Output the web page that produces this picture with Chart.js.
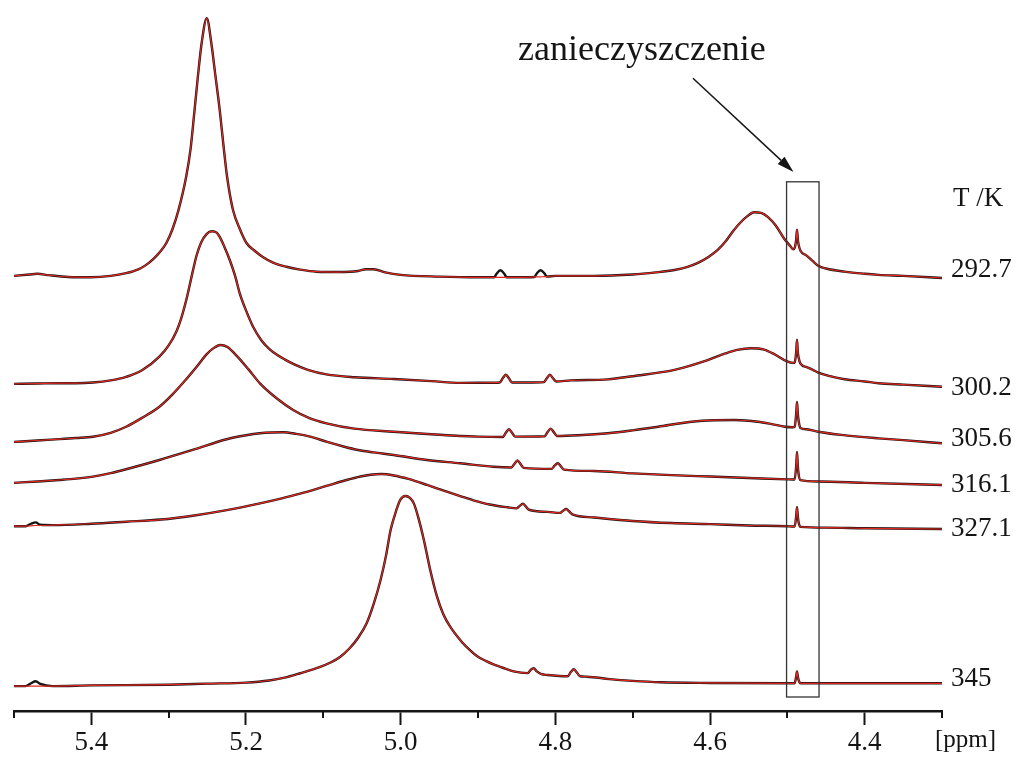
<!DOCTYPE html>
<html>
<head>
<meta charset="utf-8">
<script src="https://cdn.jsdelivr.net/npm/chart.js@4.4.1/dist/chart.umd.min.js"></script>
<style>
  html, body { margin: 0; padding: 0; background: #fff; }
  canvas { display: block; }
</style>
</head>
<body>
<canvas id="nmr" width="1020" height="760"></canvas>
<script>
// ---- data: 1H NMR spectra (ppm vs. intensity, a.u.), measured and fitted ----
const temperatures = ['292.7', '300.2', '305.6', '316.1', '327.1', '345'];
const majorTicks = [4.4, 4.6, 4.8, 5.0, 5.2, 5.4];
const minorTicks = [4.3, 4.5, 4.7, 4.9, 5.1, 5.3, 5.5];

// 292.7 K
const ppm2927 = [5.50, 5.48, 5.47, 5.455, 5.43, 5.40, 5.375, 5.355, 5.34, 5.33,
  5.32, 5.31, 5.303, 5.295, 5.2873, 5.2773, 5.2715, 5.2665, 5.2622, 5.2573,
  5.2507, 5.2449, 5.240, 5.234, 5.2288, 5.2245, 5.2168, 5.208, 5.1994, 5.19,
  5.1783, 5.165, 5.1476, 5.13, 5.1087, 5.08, 5.055, 5.045, 5.035, 5.02,
  5.00, 4.95, 4.90, 4.879, 4.876, 4.871, 4.866, 4.863, 4.85, 4.827,
  4.824, 4.819, 4.814, 4.811, 4.80, 4.75, 4.70, 4.67, 4.646, 4.63,
  4.615, 4.602, 4.59, 4.58, 4.57, 4.56, 4.552, 4.543, 4.534, 4.525,
  4.515, 4.504, 4.4965, 4.4925, 4.4905, 4.4885, 4.4875, 4.4865, 4.4855, 4.483,
  4.475, 4.467, 4.46, 4.45, 4.426, 4.40, 4.382, 4.35, 4.30];
const exp2927 = [0.3, 0.5, 0.6, 0.4, 0.15, 0.1, 0.3, 0.7, 1.2, 1.8,
  2.7, 3.9, 5.0, 7.0, 9.7, 14.5, 18.6, 24.0, 28.8, 33.6,
  37.1, 33.6, 29.3, 24.0, 18.6, 14.5, 9.7, 7.0, 5.0, 4.0,
  3.0, 2.2, 1.6, 1.2, 0.9, 0.85, 1.0, 1.25, 1.25, 0.8,
  0.45, 0.2, 0.1, 0.1, 0.6, 1.1, 0.6, 0.1, 0.1, 0.15,
  0.65, 1.1, 0.65, 0.2, 0.3, 0.3, 0.5, 0.8, 1.14, 1.55,
  2.2, 3.0, 4.0, 5.2, 6.7, 8.0, 8.8, 9.4, 9.3, 8.7,
  7.5, 5.6, 4.6, 4.1, 4.3, 5.6, 6.9, 5.6, 4.8, 3.9,
  3.2, 2.4, 1.75, 1.35, 0.9, 0.6, 0.45, 0.3, 0];
const fit2927 = [0.3, 0.5, 0.6, 0.4, 0.15, 0.1, 0.3, 0.7, 1.2, 1.8,
  2.7, 3.9, 5.0, 7.0, 9.7, 14.5, 18.6, 24.0, 28.8, 33.6,
  37.1, 33.6, 29.3, 24.0, 18.6, 14.5, 9.7, 7.0, 5.0, 4.0,
  3.0, 2.2, 1.6, 1.2, 0.9, 0.85, 1.0, 1.25, 1.25, 0.8,
  0.45, 0.2, 0.1, 0.1, 0.1, 0.1, 0.1, 0.1, 0.1, 0.15,
  0.16, 0.17, 0.18, 0.2, 0.3, 0.3, 0.5, 0.8, 1.14, 1.55,
  2.2, 3.0, 4.0, 5.2, 6.7, 8.0, 8.8, 9.4, 9.3, 8.7,
  7.5, 5.6, 4.6, 4.1, 4.3, 5.6, 6.9, 5.6, 4.8, 3.9,
  3.2, 2.4, 1.75, 1.35, 0.9, 0.6, 0.45, 0.3, 0];

// 300.2 K
const ppm3002 = [5.50, 5.47, 5.4415, 5.42, 5.398, 5.375, 5.355, 5.335, 5.312, 5.30,
  5.290, 5.284, 5.277, 5.270, 5.264, 5.258, 5.251, 5.244, 5.238, 5.234,
  5.228, 5.221, 5.214, 5.208, 5.20, 5.191, 5.18, 5.17, 5.16, 5.15,
  5.139, 5.12, 5.096, 5.06, 5.009, 4.96, 4.923, 4.88, 4.872, 4.868,
  4.864, 4.860, 4.856, 4.83, 4.815, 4.811, 4.807, 4.803, 4.799, 4.78,
  4.732, 4.70, 4.646, 4.603, 4.58, 4.565, 4.547, 4.53, 4.516, 4.501,
  4.4925, 4.4905, 4.4885, 4.4875, 4.4865, 4.4855, 4.483, 4.475, 4.467, 4.46,
  4.445, 4.426, 4.40, 4.382, 4.35, 4.30];
const exp3002 = [0.4, 0.45, 0.5, 0.5, 0.6, 0.9, 1.4, 2.3, 4.3, 5.9,
  7.9, 9.7, 12.5, 15.9, 18.7, 20.6, 21.8, 22.2, 22.0, 21.4,
  20.0, 18.1, 15.8, 13.3, 10.9, 8.6, 6.6, 5.4, 4.55, 3.9,
  3.25, 2.4, 1.75, 1.35, 1.1, 0.8, 0.55, 0.57, 0.6, 1.2,
  1.7, 1.2, 0.6, 0.6, 0.65, 1.2, 1.7, 1.2, 0.75, 0.9,
  1.05, 1.5, 2.4, 3.8, 4.75, 5.25, 5.5, 5.3, 4.6, 3.65,
  3.4, 3.5, 5.0, 6.7, 5.0, 4.2, 3.3, 2.8, 2.4, 2.0,
  1.5, 1.06, 0.75, 0.5, 0.3, 0];
const fit3002 = exp3002;

// 305.6 K
const ppm3056 = [5.50, 5.47, 5.4415, 5.42, 5.398, 5.375, 5.355, 5.335, 5.312, 5.295,
  5.277, 5.264, 5.251, 5.242, 5.233, 5.224, 5.212, 5.197, 5.182, 5.16,
  5.139, 5.118, 5.096, 5.06, 5.009, 4.96, 4.923, 4.90, 4.868, 4.864,
  4.860, 4.856, 4.852, 4.814, 4.810, 4.806, 4.802, 4.798, 4.77, 4.732,
  4.70, 4.667, 4.624, 4.595, 4.568, 4.538, 4.52, 4.503, 4.4925, 4.4905,
  4.4885, 4.4875, 4.4865, 4.4855, 4.483, 4.475, 4.46, 4.43, 4.382, 4.35,
  4.30];
const exp3056 = [0.2, 0.4, 0.6, 0.75, 0.94, 1.5, 2.37, 3.6, 5.23, 7.0,
  9.2, 10.9, 12.7, 13.6, 14.05, 13.75, 12.5, 10.6, 8.57, 6.4,
  4.76, 3.6, 2.86, 2.1, 1.66, 1.3, 1.04, 0.95, 0.9, 1.5,
  2.0, 1.5, 0.95, 1.0, 1.6, 2.1, 1.6, 1.05, 1.15, 1.43,
  1.85, 2.37, 3.09, 3.3, 3.33, 3.09, 2.75, 2.37, 2.3, 2.35,
  4.3, 5.9, 4.3, 3.3, 2.2, 2.0, 1.66, 1.2, 0.71, 0.45,
  0];
const fit3056 = exp3056;

// 316.1 K
const ppm3161 = [5.50, 5.47, 5.4415, 5.42, 5.398, 5.375, 5.355, 5.312, 5.269, 5.225,
  5.20, 5.182, 5.167, 5.152, 5.135, 5.117, 5.095, 5.074, 5.055, 5.035,
  5.009, 4.966, 4.923, 4.88, 4.857, 4.853, 4.849, 4.845, 4.841, 4.805,
  4.801, 4.797, 4.793, 4.789, 4.75, 4.70, 4.65, 4.60, 4.55, 4.50,
  4.4925, 4.4905, 4.4885, 4.4875, 4.4865, 4.4855, 4.483, 4.46, 4.40, 4.30];
const exp3161 = [0.3, 0.5, 0.71, 0.9, 1.2, 1.7, 2.25, 3.57, 5.0, 6.53,
  7.1, 7.39, 7.5, 7.53, 7.3, 6.9, 6.15, 5.5, 5.0, 4.65,
  4.29, 3.57, 3.1, 2.6, 2.5, 3.0, 3.5, 3.0, 2.45, 2.3,
  2.75, 3.1, 2.7, 2.2, 2.0, 1.65, 1.4, 1.2, 1.0, 0.8,
  0.78, 0.8, 2.8, 4.7, 2.8, 1.6, 0.7, 0.5, 0.3, 0];
const fit3161 = exp3161;

// 327.1 K
const ppm3271 = [5.50, 5.485, 5.478, 5.472, 5.466, 5.45, 5.40, 5.355, 5.31, 5.269,
  5.225, 5.182, 5.155, 5.13, 5.096, 5.07, 5.052, 5.039, 5.025, 5.009,
  4.99, 4.966, 4.949, 4.923, 4.906, 4.885, 4.862, 4.850, 4.846, 4.842,
  4.838, 4.834, 4.81, 4.794, 4.790, 4.786, 4.782, 4.778, 4.75, 4.70,
  4.65, 4.60, 4.55, 4.50, 4.4925, 4.4905, 4.4885, 4.4875, 4.4865, 4.4855,
  4.483, 4.45, 4.40, 4.30];
const exp3271 = [0.4, 0.4, 0.75, 0.95, 0.6, 0.55, 0.75, 1.04, 1.35, 1.9,
  2.7, 3.67, 4.35, 5.05, 6.15, 7.0, 7.5, 7.75, 7.85, 7.65,
  7.15, 6.3, 5.65, 4.7, 4.1, 3.5, 3.1, 2.95, 3.3, 3.6,
  3.2, 2.75, 2.45, 2.3, 2.6, 2.85, 2.5, 2.1, 1.65, 1.15,
  0.85, 0.7, 0.5, 0.4, 0.35, 0.35, 1.9, 3.1, 1.9, 1.0,
  0.3, 0.2, 0.1, 0];
const fit3271 = [0.4, 0.4, 0.45, 0.5, 0.5, 0.55, 0.75, 1.04, 1.35, 1.9,
  2.7, 3.67, 4.35, 5.05, 6.15, 7.0, 7.5, 7.75, 7.85, 7.65,
  7.15, 6.3, 5.65, 4.7, 4.1, 3.5, 3.1, 2.95, 3.3, 3.6,
  3.2, 2.75, 2.45, 2.3, 2.6, 2.85, 2.5, 2.1, 1.65, 1.15,
  0.85, 0.7, 0.5, 0.4, 0.35, 0.35, 1.9, 3.1, 1.9, 1.0,
  0.3, 0.2, 0.1, 0];

// 345 K
const ppm345 = [5.50, 5.485, 5.478, 5.472, 5.466, 5.45, 5.40, 5.30, 5.25, 5.20,
  5.17, 5.15, 5.13, 5.105, 5.09, 5.078, 5.066, 5.055, 5.044, 5.035,
  5.026, 5.019, 5.013, 5.006, 5.0005, 4.994, 4.988, 4.983, 4.977, 4.970,
  4.962, 4.953, 4.945, 4.936, 4.92, 4.91, 4.901, 4.89, 4.88, 4.865,
  4.854, 4.836, 4.832, 4.828, 4.824, 4.818, 4.81, 4.795, 4.784, 4.780,
  4.776, 4.772, 4.768, 4.759, 4.73, 4.70, 4.664, 4.60, 4.50, 4.4925,
  4.4905, 4.4885, 4.4875, 4.4865, 4.4855, 4.483, 4.40, 4.30];
const exp345 = [-0.4, -0.4, 0.0, 0.3, -0.1, -0.4, -0.3, -0.2, -0.05, 0.1,
  0.4, 0.8, 1.43, 2.3, 3.0, 3.8, 5.0, 6.5, 8.57, 11.3,
  14.76, 18.2, 21.9, 24.6, 26.2, 26.76, 26.5, 25.7, 23.6, 20.47,
  16.3, 12.37, 9.9, 8.09, 5.8, 4.7, 3.85, 3.2, 2.7, 2.1,
  1.7, 1.45, 1.9, 2.14, 1.7, 1.3, 1.19, 1.05, 1.0, 1.6,
  2.0, 1.5, 1.0, 0.94, 0.6, 0.35, 0.15, 0.05, 0.0, 0.0,
  0.05, 1.0, 1.7, 1.0, 0.5, 0.0, 0.0, 0.0];
const fit345 = [-0.4, -0.4, -0.4, -0.4, -0.4, -0.4, -0.3, -0.2, -0.05, 0.1,
  0.4, 0.8, 1.43, 2.3, 3.0, 3.8, 5.0, 6.5, 8.57, 11.3,
  14.76, 18.2, 21.9, 24.6, 26.2, 26.76, 26.5, 25.7, 23.6, 20.47,
  16.3, 12.37, 9.9, 8.09, 5.8, 4.7, 3.85, 3.2, 2.7, 2.1,
  1.7, 1.45, 1.9, 2.14, 1.7, 1.3, 1.19, 1.05, 1.0, 1.6,
  2.0, 1.5, 1.0, 0.94, 0.6, 0.35, 0.15, 0.05, 0.0, 0.0,
  0.05, 1.0, 1.7, 1.0, 0.5, 0.0, 0.0, 0.0];

// ---- layout & style ----
const stackOffset = [61.86, 46.33, 38.24, 32.29, 26.0, 3.96];   // vertical shift of each trace (a.u.)
const labelNudge = [-1, 8, 3, 7, 7, 3];                         // px, temperature label baseline vs. trace
const ink = '#151515';
const fitColor = '#e3261e';
const serif = "'Liberation Serif', 'Times New Roman', serif";

const spectra = [
  { ppm: ppm2927, exp: exp2927, fit: fit2927 },
  { ppm: ppm3002, exp: exp3002, fit: fit3002 },
  { ppm: ppm3056, exp: exp3056, fit: fit3056 },
  { ppm: ppm3161, exp: exp3161, fit: fit3161 },
  { ppm: ppm3271, exp: exp3271, fit: fit3271 },
  { ppm: ppm345,  exp: exp345,  fit: fit345  }
];

const toPoints = (xs, ys, shift) => xs.map((v, i) => ({ x: v, y: ys[i] + shift }));

const datasets = [];
spectra.forEach((s, i) => {
  datasets.push({
    label: temperatures[i] + ' K fit',
    data: toPoints(s.ppm, s.fit, stackOffset[i]),
    borderColor: fitColor, borderWidth: 1.2, order: 0
  });
  datasets.push({
    label: temperatures[i] + ' K',
    data: toPoints(s.ppm, s.exp, stackOffset[i]),
    borderColor: ink, borderWidth: 2.4, order: 1
  });
});

// box around the impurity signal, arrow and caption
const impurityBox = { from: 4.501, to: 4.459, low: 2.0, high: 75.6 };
const arrow = { x0: 4.622, y0: 90.4, x1: 4.492, y1: 77.0 };
const caption = { text: 'zanieczyszczenie', x: 4.688, y: 93.0 };

const annotate = {
  id: 'annotate',
  afterDraw(chart) {
    const { ctx, chartArea, scales: { x, y } } = chart;
    ctx.save();

    // minor ticks
    ctx.strokeStyle = ink;
    ctx.lineWidth = 2;
    minorTicks.forEach(v => {
      const px = Math.round(x.getPixelForValue(v));
      ctx.beginPath();
      ctx.moveTo(px, chartArea.bottom);
      ctx.lineTo(px, chartArea.bottom + 7);
      ctx.stroke();
    });

    // impurity box
    ctx.strokeStyle = '#333';
    ctx.lineWidth = 1.3;
    const bx0 = x.getPixelForValue(impurityBox.from), bx1 = x.getPixelForValue(impurityBox.to);
    const by0 = y.getPixelForValue(impurityBox.high), by1 = y.getPixelForValue(impurityBox.low);
    ctx.strokeRect(bx0, by0, bx1 - bx0, by1 - by0);

    // arrow
    const ax0 = x.getPixelForValue(arrow.x0), ay0 = y.getPixelForValue(arrow.y0);
    const ax1 = x.getPixelForValue(arrow.x1), ay1 = y.getPixelForValue(arrow.y1);
    const ang = Math.atan2(ay1 - ay0, ax1 - ax0);
    const headLen = 17, headHalf = 5;
    const hx = ax1 - headLen * Math.cos(ang), hy = ay1 - headLen * Math.sin(ang);
    ctx.strokeStyle = ink;
    ctx.lineWidth = 1.5;
    ctx.beginPath();
    ctx.moveTo(ax0, ay0);
    ctx.lineTo(hx, hy);
    ctx.stroke();
    ctx.fillStyle = ink;
    ctx.beginPath();
    ctx.moveTo(ax1, ay1);
    ctx.lineTo(hx + headHalf * Math.sin(ang), hy - headHalf * Math.cos(ang));
    ctx.lineTo(hx - headHalf * Math.sin(ang), hy + headHalf * Math.cos(ang));
    ctx.closePath();
    ctx.fill();

    // caption
    ctx.font = '36px ' + serif;
    ctx.textAlign = 'center';
    ctx.textBaseline = 'alphabetic';
    ctx.fillText(caption.text, x.getPixelForValue(caption.x), y.getPixelForValue(caption.y));

    // temperature labels
    ctx.font = '27px ' + serif;
    ctx.textAlign = 'left';
    const lx = chartArea.right + 9;
    ctx.fillText('T /K', lx + 2, 206);
    temperatures.forEach((t, i) => {
      ctx.fillText(t, lx, y.getPixelForValue(stackOffset[i]) + labelNudge[i]);
    });

    // unit
    ctx.font = '25px ' + serif;
    ctx.fillText('[ppm]', 935, 747);

    ctx.restore();
  }
};

new Chart(document.getElementById('nmr'), {
  type: 'line',
  data: { datasets },
  plugins: [annotate],
  options: {
    responsive: false,
    animation: false,
    layout: { padding: { left: 14, right: 78, top: 11, bottom: 0 } },
    plugins: { legend: { display: false }, tooltip: { enabled: false } },
    elements: {
      point: { radius: 0 },
      line: { cubicInterpolationMode: 'monotone', borderJoinStyle: 'round', borderCapStyle: 'round' }
    },
    scales: {
      x: {
        type: 'linear',
        reverse: true,
        min: 4.3,
        max: 5.5,
        afterBuildTicks: s => { s.ticks = majorTicks.map(v => ({ value: v })); },
        afterFit: s => { s.height = 49; },
        border: { display: true, color: ink, width: 2.5 },
        grid: { display: true, drawOnChartArea: false, drawTicks: true, tickLength: 14, tickColor: ink, tickWidth: 2 },
        ticks: {
          color: ink,
          padding: 2,
          maxRotation: 0,
          autoSkip: false,
          font: { family: serif, size: 27 },
          callback: v => Number(v).toFixed(1)
        }
      },
      y: { display: false, min: 0, max: 100 }
    }
  }
});
</script>
</body>
</html>
